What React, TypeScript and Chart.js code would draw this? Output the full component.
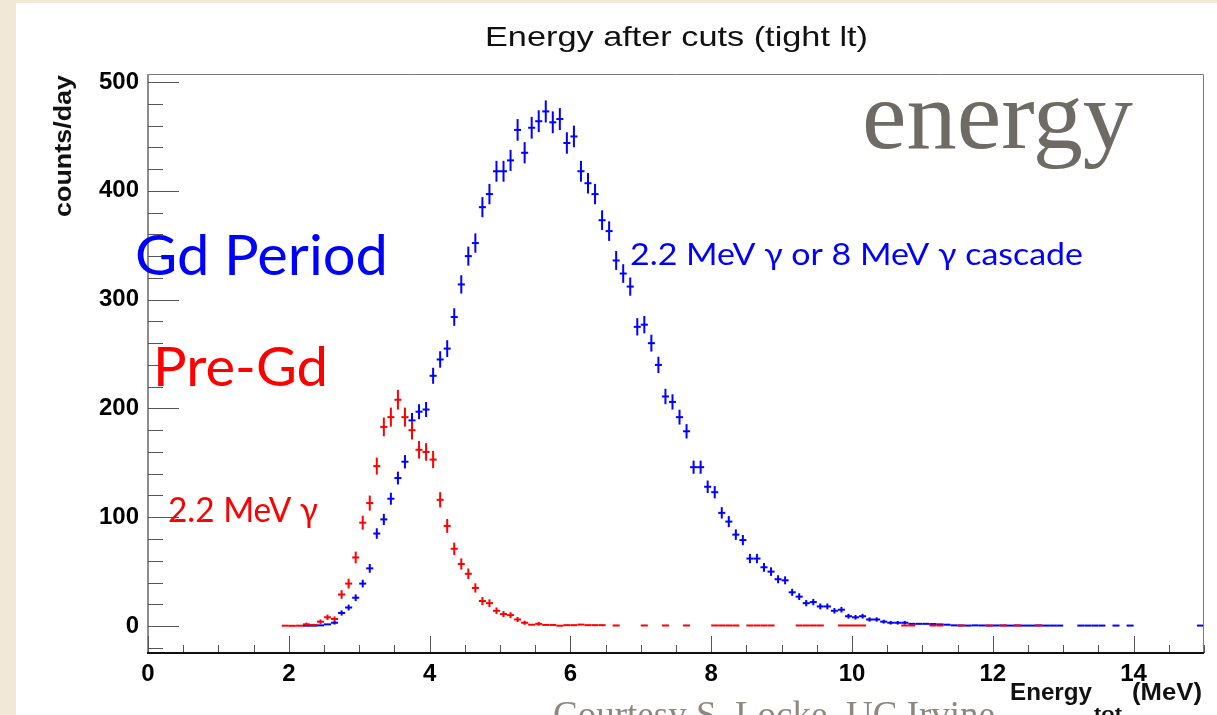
import React, { useEffect, useRef } from "react";
import { Chart, registerables } from "chart.js";

Chart.register(...registerables);

// ---- data ----
const binStart = 1.95; // centre of first bin (MeV)
const binWidth = 0.1;

const gdPeriodCounts: (number | null)[] = [
  null, null, null, 0.3, 0.3, 0.6, 1.5, 3, 12, 17,
  26, 39, 53, 85, 98, 117, 136, 151, 189, 197,
  199, 230, 245, 255, 284, 314, 340, 352, 385, 397,
  418, 418, 428, 456, 435, 458, 464, 473, 463, 466,
  444, 450, 418, 407, 397, 373, 363, 336, 324, 312,
  275, 277, 260, 240, 211, 206, 192, 179, 146, 146,
  128, 123, 104, 96, 84, 79, 62, 62, 54, 50,
  43, 42, 31, 27, 21, 22, 18, 18, 14, 15,
  9, 8, 9, 6, 6, 4, 3, 3, 3, 2,
  2, 2, 1.8, 1.5, 1.2, 0.6, 0.5, 0.4, 0.6, 0.5,
  0.4, 0.5, 0.5, 0.4, 0.5, 0.4, 0.4, 0.5, 0.4, 0.4,
  0.4, null, null, 0.4, 0.4, 0.4, 0.4, null, 0.4, null,
  0.4, null, null, null, null, null, null, null, null, null,
  0.4,
];

const preGdCounts: (number | null)[] = [
  0.3, 0.2, 0.3, 1.5, 1, 4, 8, 6.5, 29, 39,
  63, 95, 113, 147, 183, 192, 208, 192, 180, 162,
  160, 153, 116, 92, 71, 57, 48, 35, 23, 21,
  14, 11, 10, 6, 3, 1.2, 2, 1, 1, 0.3,
  0.8, 0.8, 1.3, 0.8, 0.8, 0.8, null, 0.5, null, null,
  null, 0.5, null, null, 0.5, null, null, 0.5, null, null,
  null, 0.5, 0.5, 0.5, 0.5, null, 0.5, 0.5, 0.5, 0.5,
  null, null, null, 0.5, 0.5, 0.5, 0.5, null, null, 0.5,
  0.5, 0.5, 0.5, null, null, null, null, null, 0.5, 0.5,
  null, null, 0.5, 0.5, null, null, 0.5, null, null, null,
  0.5, null, 0.5, null, 0.5, null, null, 0.5,
];

// Poisson error scale (counts/day -> error), per period exposure
const gdErrScale = 0.18;
const preGdErrScale = 0.32;

const xTickValues = [0, 2, 4, 6, 8, 10, 12, 14];
const xTickLabels = ["0", "2", "4", "6", "8", "10", "12", "14"];
const yTickValues = [0, 100, 200, 300, 400, 500];
const yTickLabels = ["0", "100", "200", "300", "400", "500"];

const chartTitle = "Energy after cuts (tight lt)";
const yAxisTitle = "counts/day";

const SANS = "'Liberation Sans', Arial, Helvetica, sans-serif";
const SERIF = "'Liberation Serif', 'Times New Roman', serif";
const CAL = "Lato, 'Open Sans', 'Noto Sans', sans-serif";

function toPoints(counts: (number | null)[], errScale: number) {
  const pts: { x: number; y: number; err: number }[] = [];
  counts.forEach((v, i) => {
    if (v === null) return;
    pts.push({ x: +(binStart + i * binWidth).toFixed(2), y: v, err: Math.sqrt(v * errScale) });
  });
  return pts;
}

function fitText(
  ctx: CanvasRenderingContext2D,
  text: string,
  x: number,
  y: number,
  font: string,
  color: string,
  width: number,
  rotate = 0
) {
  ctx.save();
  ctx.font = font;
  ctx.fillStyle = color;
  ctx.textBaseline = "alphabetic";
  ctx.textAlign = "left";
  const w = ctx.measureText(text).width;
  ctx.translate(x, y);
  if (rotate) ctx.rotate(rotate);
  ctx.scale(width / w, 1);
  ctx.fillText(text, 0, 0);
  ctx.restore();
}

const decorPlugin = {
  id: "decor",
  beforeDraw(chart: any) {
    const { ctx, width, height } = chart;
    ctx.save();
    ctx.fillStyle = "#f1e8d6";
    ctx.fillRect(0, 0, width, height);
    ctx.fillStyle = "#ffffff";
    ctx.fillRect(16, 3, width - 16, height - 3);
    ctx.restore();
  },
  afterDatasetsDraw(chart: any) {
    const { ctx, chartArea } = chart;
    const xs = chart.scales.x;
    const ys = chart.scales.y;
    ctx.save();
    ctx.beginPath();
    ctx.rect(chartArea.left, chartArea.top, chartArea.right - chartArea.left, chartArea.bottom - chartArea.top);
    ctx.clip();
    chart.data.datasets.forEach((ds: any, di: number) => {
      const meta = chart.getDatasetMeta(di);
      ctx.strokeStyle = ds.borderColor;
      ctx.lineWidth = 2;
      ds.data.forEach((p: any, i: number) => {
        const el = meta.data[i];
        if (!el) return;
        const px = el.x;
        const py = el.y;
        const x0 = xs.getPixelForValue(p.x - binWidth / 2);
        const x1 = xs.getPixelForValue(p.x + binWidth / 2);
        const y0 = ys.getPixelForValue(p.y - p.err);
        const y1 = ys.getPixelForValue(p.y + p.err);
        ctx.lineCap = "butt";
        ctx.beginPath();
        ctx.moveTo(x0, py);
        ctx.lineTo(x1, py);
        ctx.stroke();
        if (y0 - y1 > 1.5) {
          ctx.lineCap = "square";
          ctx.beginPath();
          ctx.moveTo(px, y0);
          ctx.lineTo(px, y1);
          ctx.stroke();
        }
      });
    });
    ctx.restore();
  },
  afterDraw(chart: any) {
    const { ctx, chartArea } = chart;
    const xs = chart.scales.x;
    const ys = chart.scales.y;
    const { left, right, top, bottom } = chartArea;
    ctx.save();
    // frame
    ctx.strokeStyle = "#7a7a7a";
    ctx.lineWidth = 1;
    ctx.beginPath();
    ctx.moveTo(left, top + 0.5);
    ctx.lineTo(right - 0.5, top + 0.5);
    ctx.lineTo(right - 0.5, bottom);
    ctx.stroke();
    // left axis
    ctx.strokeStyle = "#8c8c8c";
    ctx.lineWidth = 2;
    ctx.beginPath();
    ctx.moveTo(left, top);
    ctx.lineTo(left, bottom);
    ctx.stroke();
    // y ticks
    ctx.strokeStyle = "#555555";
    ctx.lineWidth = 1;
    for (let v = -20; v <= 500; v += 20) {
      const py = Math.round(ys.getPixelForValue(v)) + 0.5;
      const major = v % 100 === 0;
      ctx.beginPath();
      ctx.moveTo(left, py);
      ctx.lineTo(left + (major ? 31 : 15), py);
      ctx.stroke();
    }
    // x ticks
    for (let v = 0; v <= 15; v += 0.5) {
      const px = Math.round(xs.getPixelForValue(v)) + 0.5;
      const major = Math.abs(v % 2) < 1e-9;
      ctx.beginPath();
      ctx.moveTo(px, bottom);
      ctx.lineTo(px, bottom - (major ? 17 : 8));
      ctx.stroke();
    }
    // bottom axis
    ctx.strokeStyle = "#111111";
    ctx.lineWidth = 2;
    ctx.beginPath();
    ctx.moveTo(left - 1, bottom);
    ctx.lineTo(right, bottom);
    ctx.stroke();
    ctx.restore();

    // titles
    fitText(ctx, chartTitle, 485, 46, `28px ${SANS}`, "#111111", 383);
    fitText(ctx, yAxisTitle, 71, 217, `bold 24px ${SANS}`, "#111111", 142, -Math.PI / 2);
    fitText(ctx, "Energy", 1010, 700, `bold 24px ${SANS}`, "#111111", 82);
    fitText(ctx, "tot", 1094, 719, `bold 17px ${SANS}`, "#111111", 28);
    fitText(ctx, "(MeV)", 1132, 700, `bold 24px ${SANS}`, "#111111", 70);

    // annotations
    fitText(ctx, "energy", 862, 148, `98px ${SERIF}`, "#6e6b64", 271);
    fitText(ctx, "Gd Period", 135, 275, `56px ${CAL}`, "#0000ff", 253);
    fitText(ctx, "Pre-Gd", 153, 386, `55px ${CAL}`, "#ff0000", 175);
    fitText(ctx, "2.2 MeV γ", 168, 522, `34px ${CAL}`, "#ff0000", 150);
    fitText(ctx, "2.2 MeV γ or 8 MeV γ cascade", 630, 265, `31px ${CAL}`, "#0000ff", 453);
    fitText(ctx, "Courtesy S. Locke, UC Irvine", 553, 727, `37px ${SERIF}`, "#8c8880", 442);
  },
};

export default function App() {
  const ref = useRef<HTMLCanvasElement>(null);
  useEffect(() => {
    if (!ref.current) return;
    const chart = new Chart(ref.current, {
      type: "scatter",
      data: {
        datasets: [
          {
            label: "Gd Period",
            data: toPoints(gdPeriodCounts, gdErrScale) as any,
            borderColor: "#0000ff",
            backgroundColor: "#0000ff",
            pointRadius: 0,
            showLine: false,
          },
          {
            label: "Pre-Gd",
            data: toPoints(preGdCounts, preGdErrScale) as any,
            borderColor: "#ff0000",
            backgroundColor: "#ff0000",
            pointRadius: 0,
            showLine: false,
          },
        ],
      },
      options: {
        animation: false,
        responsive: false,
        devicePixelRatio: 1,
        layout: { padding: { top: 74, right: 13, left: 0, bottom: 0 } },
        plugins: {
          legend: { display: false },
          tooltip: { enabled: false },
          title: { display: false },
        },
        scales: {
          x: {
            type: "linear",
            min: 0,
            max: 15,
            grid: { display: false, drawTicks: false },
            border: { display: false },
            afterBuildTicks: (s: any) => {
              s.ticks = xTickValues.map((v) => ({ value: v }));
            },
            afterFit: (s: any) => {
              s.height = 62;
            },
            ticks: {
              autoSkip: false,
              maxRotation: 0,
              padding: 7,
              color: "#000000",
              font: { family: SANS, size: 24, weight: "bold" },
              callback: (v: any) => {
                const i = xTickValues.indexOf(Number(v));
                return i >= 0 ? xTickLabels[i] : "";
              },
            },
          },
          y: {
            type: "linear",
            min: -24.8,
            max: 507.4,
            grid: { display: false, drawTicks: false },
            border: { display: false },
            afterBuildTicks: (s: any) => {
              s.ticks = yTickValues.map((v) => ({ value: v }));
            },
            afterFit: (s: any) => {
              s.width = 148;
            },
            ticks: {
              autoSkip: false,
              padding: 9,
              color: "#000000",
              font: { family: SANS, size: 24, weight: "bold" },
              callback: (v: any) => {
                const i = yTickValues.indexOf(Number(v));
                return i >= 0 ? yTickLabels[i] : "";
              },
            },
          },
        },
      },
      plugins: [decorPlugin],
    });
    return () => chart.destroy();
  }, []);
  return (
    <canvas
      ref={ref}
      width={1217}
      height={715}
      style={{ position: "fixed", left: 0, top: 0, width: 1217, height: 715 }}
    />
  );
}
